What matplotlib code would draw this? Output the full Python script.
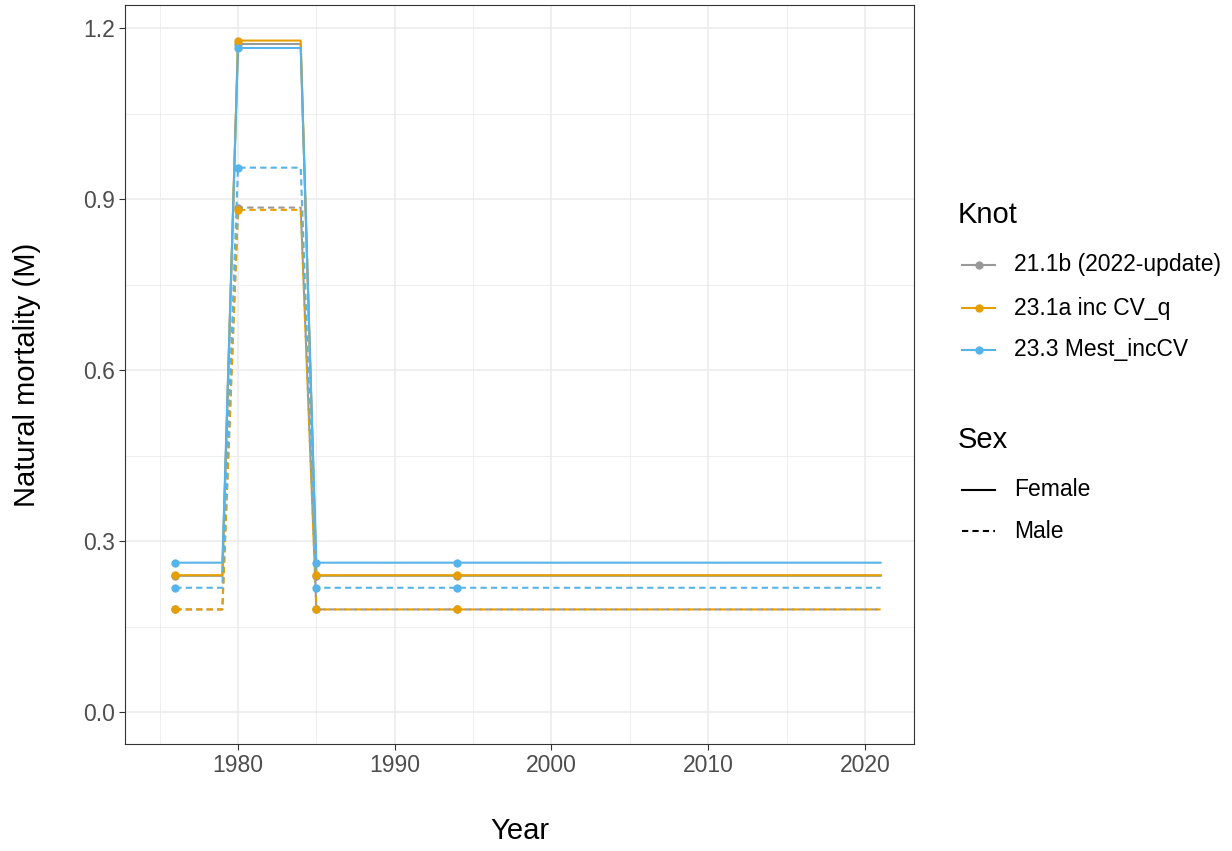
import numpy as np
import matplotlib
matplotlib.use("Agg")
import matplotlib.pyplot as plt
from matplotlib.lines import Line2D

plt.rcParams['font.family'] = ['Liberation Sans', 'DejaVu Sans']

# vertices of each M time series (step 1979->1980 and 1984->1985)
years = [1976, 1979, 1980, 1984, 1985, 2021]
knot_years = [1976, 1980, 1985, 1994]

labels = ["21.1b (2022-update)", "23.1a inc CV_q", "23.3 Mest_incCV"]
colors = ["#999999", "#E69F00", "#56B4E9"]

# female / male natural mortality per model
m_female = [
    [0.239, 0.239, 1.172, 1.172, 0.239, 0.239],
    [0.240, 0.240, 1.178, 1.178, 0.240, 0.240],
    [0.262, 0.262, 1.165, 1.165, 0.262, 0.262],
]
m_male = [
    [0.180, 0.180, 0.885, 0.885, 0.180, 0.180],
    [0.180, 0.180, 0.881, 0.881, 0.180, 0.180],
    [0.218, 0.218, 0.955, 0.955, 0.218, 0.218],
]
knot_female = [
    [0.239, 1.172, 0.239, 0.239],
    [0.240, 1.178, 0.240, 0.240],
    [0.262, 1.165, 0.262, 0.262],
]
knot_male = [
    [0.180, 0.885, 0.180, 0.180],
    [0.180, 0.881, 0.180, 0.180],
    [0.218, 0.955, 0.218, 0.218],
]

W, H = 1232, 851
fig = plt.figure(figsize=(W / 100, H / 100), dpi=100)
ax = fig.add_axes([125 / W, 1 - 744 / H, (914 - 125) / W, (744 - 5) / H])

lw = 1.5
dash = (3, 2)
tick_fs = 16.5
title_fs = 21
for i in range(3):
    c = colors[i]
    ax.plot(years, m_female[i], color=c, lw=lw, zorder=3)
    ax.plot(years, m_male[i], color=c, lw=lw, dashes=dash, zorder=3)
    ax.plot(knot_years, knot_female[i], 'o', color=c, ms=6, mew=0, zorder=4)
    ax.plot(knot_years, knot_male[i], 'o', color=c, ms=6, mew=0, zorder=4)

ax.set_xlim(1972.79, 2023.13)
ax.set_ylim(-0.0561, 1.2404)
ax.set_xticks([1980, 1990, 2000, 2010, 2020])
ax.set_xticks([1975, 1985, 1995, 2005, 2015], minor=True)
ax.set_yticks([0.0, 0.3, 0.6, 0.9, 1.2])
ax.set_yticks([0.15, 0.45, 0.75, 1.05], minor=True)
ax.set_yticklabels(["0.0", "0.3", "0.6", "0.9", "1.2"])

ax.grid(which='major', color='#EBEBEB', lw=1.1, zorder=0)
ax.grid(which='minor', color='#EBEBEB', lw=0.6, zorder=0)
ax.set_axisbelow(True)
for s in ax.spines.values():
    s.set_color('#333333')
    s.set_linewidth(0.8)
ax.tick_params(which='major', length=4, width=0.8, color='#333333',
               labelsize=tick_fs, labelcolor='#4D4D4D', pad=3)
ax.tick_params(which='minor', length=0)

fig.text(519.5 / W, 1 - 831 / H, "Year", fontsize=title_fs, ha='center', va='center')
fig.text(27 / W, 1 - 374.5 / H, "Natural mortality (M)", fontsize=title_fs,
         ha='center', va='center', rotation=90)

# legends drawn by hand
def fx(x):
    return x / W

def fy(y):
    return 1 - y / H

fig.text(fx(958), fy(215), "Knot", fontsize=title_fs, va='center', ha='left')
for i, yy in enumerate([265, 308, 350]):
    fig.add_artist(Line2D([fx(962), fx(995)], [fy(yy), fy(yy)], color=colors[i],
                          lw=lw, transform=fig.transFigure))
    fig.add_artist(Line2D([fx(978.5)], [fy(yy)], marker='o', ms=6, mew=0,
                          color=colors[i], transform=fig.transFigure))
    fig.text(fx(1014), fy(yy), labels[i], fontsize=tick_fs, va='center', ha='left')

fig.text(fx(958), fy(440), "Sex", fontsize=title_fs, va='center', ha='left')
for yy, name, st in [(490, "Female", None), (531, "Male", dash)]:
    ln = Line2D([fx(962), fx(995)], [fy(yy), fy(yy)], color='black', lw=lw,
                transform=fig.transFigure)
    if st is not None:
        ln.set_dashes(st)
    fig.add_artist(ln)
    fig.text(fx(1014), fy(yy), name, fontsize=tick_fs, va='center', ha='left')

fig.savefig("out.png", dpi=100, facecolor='white')
